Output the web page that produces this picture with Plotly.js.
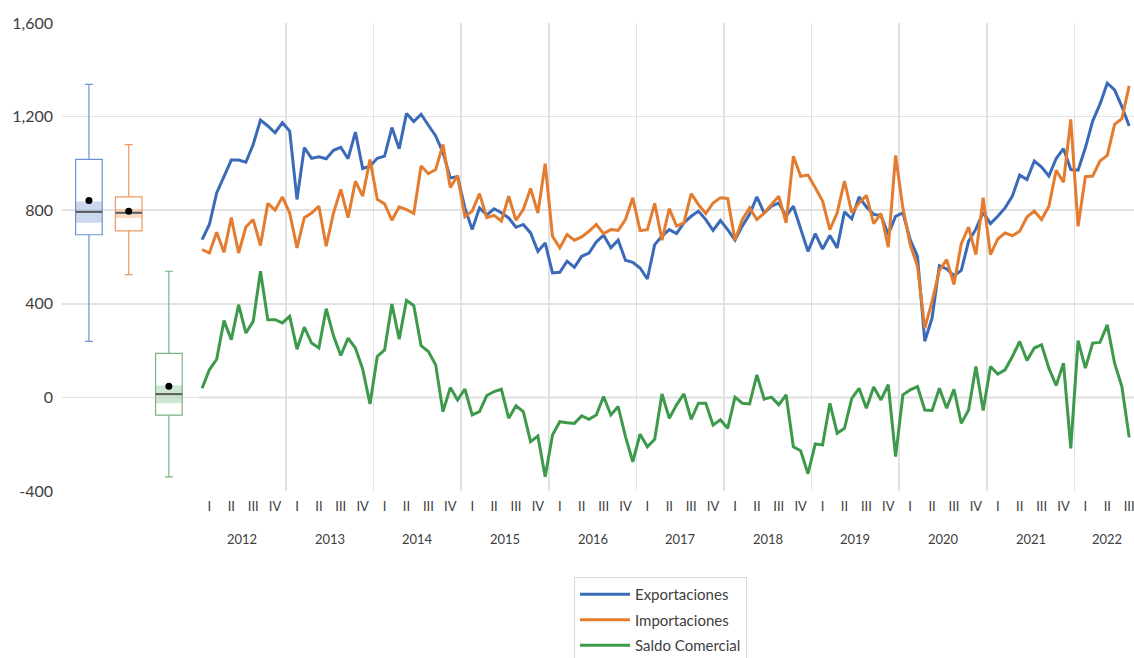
<!DOCTYPE html>
<html>
<head>
<meta charset="utf-8">
<script src="https://cdn.plot.ly/plotly-3.0.1.min.js"></script>
<style>
  html, body { margin: 0; padding: 0; background: #ffffff; }
  #chart { width: 1134px; height: 658px; }
</style>
</head>
<body>
<div id="chart"></div>
<script>
// Monthly trade flows, January 2012 onwards (millions)
const seriesNames = ['Exportaciones', 'Importaciones', 'Saldo Comercial'];

const exportaciones = [
  674, 739, 874, 946, 1014, 1014, 1005, 1081, 1185, 1160, 1131, 1174,
  1138, 846, 1067, 1022, 1028, 1020, 1056, 1069, 1020, 1134, 978, 988,
  1022, 1031, 1153, 1063, 1213, 1179, 1210, 1163, 1117, 1046, 938, 943,
  810, 717, 810, 780, 806, 789, 767, 727, 739, 703, 624, 660,
  532, 535, 582, 556, 603, 617, 664, 693, 639, 672, 586, 577,
  553, 506, 653, 689, 717, 700, 746, 774, 796, 760, 714, 756,
  717, 672, 732, 782, 857, 788, 817, 831, 774, 817, 724, 624,
  700, 634, 692, 639, 793, 763, 857, 814, 782, 777, 696, 774,
  789, 674, 603, 240, 339, 563, 549, 520, 543, 667, 719, 791,
  743, 774, 810, 860, 950, 931, 1010, 984, 946, 1021, 1063, 974,
  971, 1067, 1181, 1253, 1343, 1314, 1243, 1160
];

const importaciones = [
  632, 617, 706, 620, 769, 617, 728, 760, 649, 829, 800, 857,
  788, 639, 768, 788, 817, 646, 788, 889, 768, 924, 860, 1017,
  846, 827, 757, 814, 803, 786, 989, 956, 974, 1081, 897, 948,
  772, 796, 871, 768, 778, 753, 860, 757, 803, 893, 788, 999,
  689, 639, 696, 672, 686, 710, 739, 700, 717, 714, 760, 853,
  713, 717, 829, 672, 807, 732, 746, 871, 824, 786, 831, 853,
  850, 672, 760, 810, 760, 788, 824, 860, 746, 1031, 945, 950,
  896, 839, 717, 789, 924, 789, 831, 863, 743, 786, 642, 1034,
  810, 653, 560, 296, 410, 543, 589, 482, 657, 728, 610, 853,
  610, 677, 703, 691, 710, 771, 796, 760, 817, 971, 919, 1188,
  731, 943, 946, 1010, 1034, 1167, 1191, 1331
];

const saldoComercial = [
  39, 118, 163, 328, 246, 396, 275, 325, 539, 332, 332, 318,
  346, 206, 300, 232, 211, 379, 263, 179, 253, 211, 121, -28,
  175, 203, 399, 249, 415, 392, 221, 196, 139, -61, 42, -11,
  36, -75, -61, 8, 25, 35, -89, -36, -61, -189, -165, -339,
  -161, -104, -108, -111, -79, -94, -75, 4, -75, -39, -168, -275,
  -157, -211, -179, 15, -89, -32, 15, -94, -25, -25, -118, -96,
  -132, 1, -25, -28, 96, -8, 1, -32, 11, -211, -228, -326,
  -199, -203, -25, -153, -132, -4, 39, -46, 44, -11, 54, -253,
  11, 32, 46, -54, -56, 39, -46, 35, -111, -54, 132, -56,
  132, 100, 118, 175, 239, 158, 211, 225, 125, 51, 146, -218,
  243, 125, 232, 235, 310, 146, 46, -171
];

const years = [2012, 2013, 2014, 2015, 2016, 2017, 2018, 2019, 2020, 2021, 2022];
const quarterLabels = ['I', 'II', 'III', 'IV'];
const yTickValues = [-400, 0, 400, 800, 1200, 1600];

// Distribution summaries, one per series (same order as seriesNames)
const boxLowerWhisker = [239, 525, -340];
const boxQ1 = [695, 712, -76];
const boxMedian = [793, 789, 14];
const boxQ3 = [1017, 857, 188];
const boxUpperWhisker = [1338, 1080, 539];
const boxMean = [841, 796, 48];
const medianBandLow = [746, 767, -25];
const medianBandHigh = [837, 806, 51];

// ---- styling ----
const FONT = 'Lato, "Open Sans", sans-serif';
const TEXT = '#404040';
const lineColors = ['#3B6BB8', '#E47C2F', '#3E9A4B'];
const boxLineColors = ['#6F91D2', '#EA9A62', '#78B482'];
const bandColors = ['rgba(160,184,222,0.55)', 'rgba(244,196,160,0.6)', 'rgba(168,210,176,0.55)'];
const GRID = '#e2e2e2';

// horizontal placement of the summary boxes (left of the first month)
const boxSlots = [-15.5, -10.05, -4.55];
const boxWidth = 3.65;

const monthX = exportaciones.map((_, i) => i);
const xRange = [-19.19, 127.66];

// quarter ticks sit at the middle month of each quarter
const quarterTickVals = [];
const quarterTickText = [];
monthX.forEach(i => {
  if (i % 3 === 1) {
    quarterTickVals.push(i);
    quarterTickText.push(quarterLabels[((i % 12) - 1) / 3]);
  }
});

// year labels centred under their quarters
const yearCenters = years.map((_, k) => {
  const qs = quarterTickVals.filter(v => Math.floor(v / 12) === k);
  return qs.reduce((a, b) => a + b, 0) / qs.length;
});
const yearBoundaries = years.slice(1).map((_, k) => 12 * (k + 1) - 0.5);

const traces = [];

// shaded band around each median
seriesNames.forEach((name, k) => {
  traces.push({
    type: 'box', x: [boxSlots[k]], width: boxWidth,
    q1: [medianBandLow[k]], median: [boxMedian[k]], q3: [medianBandHigh[k]],
    lowerfence: [medianBandLow[k]], upperfence: [medianBandHigh[k]],
    fillcolor: bandColors[k], line: { width: 0 },
    showlegend: false, hoverinfo: 'skip'
  });
});

// box outlines and whiskers
seriesNames.forEach((name, k) => {
  traces.push({
    type: 'box', x: [boxSlots[k]], width: boxWidth, name: name,
    q1: [boxQ1[k]], median: [boxMedian[k]], q3: [boxQ3[k]],
    lowerfence: [boxLowerWhisker[k]], upperfence: [boxUpperWhisker[k]],
    fillcolor: 'rgba(255,255,255,0)', line: { color: boxLineColors[k], width: 1.2 },
    whiskerwidth: 0.3, showlegend: false, hoverinfo: 'y'
  });
});

// medians and means
seriesNames.forEach((name, k) => {
  traces.push({
    type: 'scatter', mode: 'lines',
    x: [boxSlots[k] - boxWidth / 2, boxSlots[k] + boxWidth / 2],
    y: [boxMedian[k], boxMedian[k]],
    line: { color: '#595959', width: 2 },
    showlegend: false, hoverinfo: 'skip'
  });
});
traces.push({
  type: 'scatter', mode: 'markers', x: boxSlots, y: boxMean,
  marker: { color: '#000000', size: 7 },
  showlegend: false, hoverinfo: 'y'
});

// monthly series
[exportaciones, importaciones, saldoComercial].forEach((vals, k) => {
  traces.push({
    type: 'scatter', mode: 'lines', name: seriesNames[k],
    x: monthX, y: vals,
    line: { color: lineColors[k], width: 3 },
    legendgroup: 'g' + k
  });
});

const layout = {
  width: 1134, height: 658,
  margin: { l: 62, r: 0, t: 23, b: 167, autoexpand: false },
  paper_bgcolor: '#ffffff', plot_bgcolor: '#ffffff',
  font: { family: FONT, color: TEXT },
  showlegend: true,
  boxmode: 'overlay',
  xaxis: {
    range: xRange, fixedrange: true,
    tickmode: 'array', tickvals: quarterTickVals, ticktext: quarterTickText,
    ticks: '', showgrid: false, zeroline: false, showline: false,
    tickfont: { family: FONT, size: 13, color: TEXT },
    ticklabelstandoff: 6, ticklabeloverflow: 'allow',
    minor: { tickmode: 'array', tickvals: yearBoundaries, showgrid: true, gridcolor: GRID, gridwidth: 1.5, ticks: '' }
  },
  yaxis: {
    range: [-400, 1600], fixedrange: true,
    tickmode: 'array', tickvals: yTickValues,
    ticktext: yTickValues.map(v => v.toLocaleString('en-US')),
    ticks: '', showgrid: true, gridcolor: GRID, gridwidth: 1.5,
    zeroline: false, showline: false,
    tickfont: { family: FONT, size: 16, color: TEXT },
    ticklabelstandoff: 8
  },
  shapes: [{
    type: 'line', xref: 'x', yref: 'y', layer: 'below',
    x0: monthX[0] - 0.5, x1: xRange[1], y0: 0, y1: 0,
    line: { color: '#bfbfbf', width: 1.5 }
  }],
  annotations: years.map((yr, k) => ({
    xref: 'x', yref: 'paper', x: yearCenters[k], y: -0.1026,
    yanchor: 'middle', xanchor: 'center', showarrow: false,
    text: String(yr), font: { family: FONT, size: 13, color: TEXT }
  })),
  legend: {
    x: 0.4776, y: -0.1838, xanchor: 'left', yanchor: 'top',
    orientation: 'v', traceorder: 'grouped', tracegroupgap: 3,
    bordercolor: '#d9d9d9', borderwidth: 1, bgcolor: '#ffffff',
    font: { family: FONT, size: 15, color: TEXT },
    itemwidth: 50
  }
};

Plotly.newPlot('chart', traces, layout, { displayModeBar: false, staticPlot: true });
</script>
</body>
</html>
